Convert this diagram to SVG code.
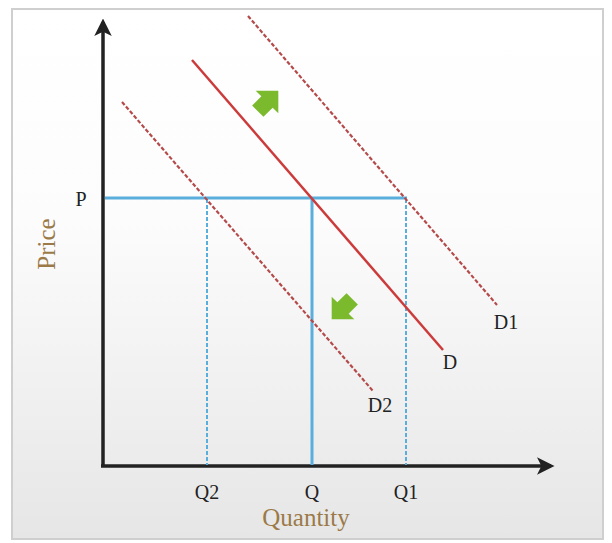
<svg xmlns="http://www.w3.org/2000/svg" width="612" height="543" viewBox="0 0 612 543">
<defs>
<linearGradient id="bg" x1="0" y1="0" x2="0" y2="1">
<stop offset="0" stop-color="#ffffff"/>
<stop offset="0.4" stop-color="#fcfcfc"/>
<stop offset="1" stop-color="#e6e6e6"/>
</linearGradient>
<marker id="ah" viewBox="0 0 10 10" refX="8" refY="5" markerWidth="5" markerHeight="5" orient="auto" markerUnits="strokeWidth">
<path d="M0,0 L10,5 L0,10 L2.5,5 z" fill="#222"/>
</marker>
</defs>
<style>
.axis{stroke:#222;stroke-width:3.5;fill:none}
.blue{stroke:#5aaedc;stroke-width:3;fill:none}
.bdash{stroke:#5aaedc;stroke-width:2;stroke-dasharray:4 2;fill:none}
.dsolid{stroke:#cc3b3b;stroke-width:2.5;fill:none}
.ddash{stroke:#b54a4a;stroke-width:2.2;stroke-dasharray:4 2;fill:none}
.lbl{font-family:"Liberation Serif","DejaVu Serif",serif;font-size:20px;fill:#222;text-anchor:middle}
.title{font-family:"Liberation Serif","DejaVu Serif",serif;font-size:25px;fill:#9b7a48;text-anchor:middle}
.arr{fill:#7cba2d}
</style>
<rect x="12" y="9" width="591" height="530" fill="url(#bg)" stroke="#cfcfcf" stroke-width="2"/>
<g id="connectors">
<line class="axis" x1="103" y1="467" x2="103" y2="22" marker-end="url(#ah)"/>
<line class="axis" x1="101" y1="466" x2="551" y2="466" marker-end="url(#ah)"/>
<line class="blue" x1="105" y1="198" x2="407" y2="198"/>
<line class="bdash" x1="207" y1="199" x2="207" y2="465"/>
<line class="blue" x1="312" y1="199" x2="312" y2="465"/>
<line class="bdash" x1="406" y1="199" x2="406" y2="465"/>
</g>
<g id="D"><line class="dsolid" x1="192" y1="60" x2="443" y2="350"/><text class="lbl" x="450" y="369">D</text></g>
<g id="D1"><line class="ddash" x1="248" y1="16" x2="497" y2="305"/><text class="lbl" x="506" y="329">D1</text></g>
<g id="D2"><line class="ddash" x1="122" y1="102" x2="373" y2="391"/><text class="lbl" x="380" y="412">D2</text></g>
<g id="P"><text class="lbl" x="81" y="206">P</text></g>
<g id="Q2"><text class="lbl" x="207" y="499">Q2</text></g>
<g id="Q"><text class="lbl" x="312" y="499">Q</text></g>
<g id="Q1"><text class="lbl" x="406" y="499">Q1</text></g>
<g id="Quantity"><text class="title" x="306" y="526">Quantity</text></g>
<g id="Price"><text class="title" transform="translate(55,244) rotate(-90)">Price</text></g>
<g id="shift-up"><polygon class="arr" transform="translate(267,102) rotate(-45)" points="-13,-8 0,-8 0,-16 16,0 0,16 0,8 -13,8"/></g>
<g id="shift-down"><polygon class="arr" transform="translate(343,308) rotate(135)" points="-13,-8 0,-8 0,-16 16,0 0,16 0,8 -13,8"/></g>
</svg>
